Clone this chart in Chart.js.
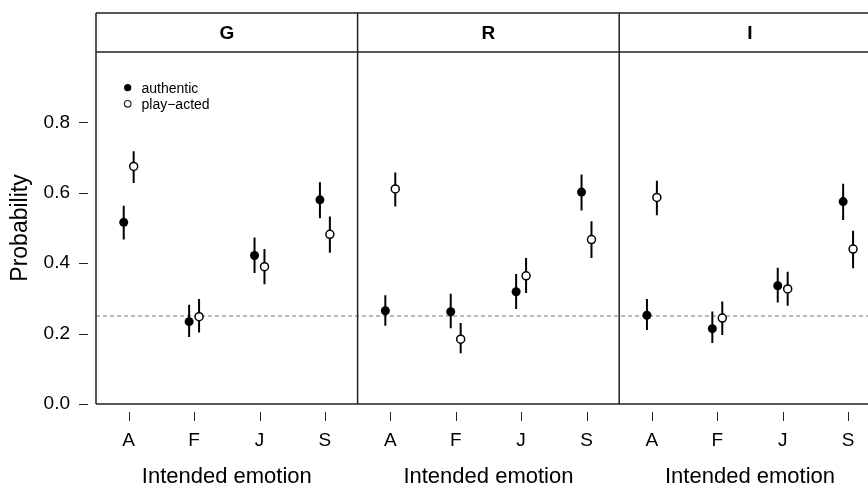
<!DOCTYPE html>
<html>
<head>
<meta charset="utf-8">
<script src="https://cdn.jsdelivr.net/npm/chart.js@4/dist/chart.umd.min.js"></script>
<style>
  html, body { margin: 0; padding: 0; background: #fff; overflow: hidden; }
  #wrap { width: 868px; height: 486px; position: relative; }
  canvas { display: block; }
</style>
</head>
<body>
<div id="wrap"><canvas id="chart"></canvas></div>
<script>
const panels = ['G', 'R', 'I'];
const emotions = ['A', 'F', 'J', 'S'];
const yTicks = [0, 0.2, 0.4, 0.6, 0.8];
const chance = 0.25;

// authentic: mean and interval per intended emotion
const authenticG = [0.516, 0.234, 0.422, 0.580];
const authenticGLow = [0.467, 0.190, 0.372, 0.528];
const authenticGHigh = [0.563, 0.282, 0.473, 0.630];
const authenticR = [0.265, 0.262, 0.319, 0.602];
const authenticRLow = [0.222, 0.215, 0.270, 0.550];
const authenticRHigh = [0.309, 0.313, 0.369, 0.652];
const authenticI = [0.252, 0.214, 0.336, 0.575];
const authenticILow = [0.210, 0.173, 0.288, 0.523];
const authenticIHigh = [0.298, 0.263, 0.387, 0.626];

// play-acted
const playG = [0.675, 0.248, 0.390, 0.482];
const playGLow = [0.628, 0.203, 0.340, 0.430];
const playGHigh = [0.718, 0.298, 0.440, 0.533];
const playR = [0.611, 0.184, 0.364, 0.467];
const playRLow = [0.561, 0.144, 0.315, 0.415];
const playRHigh = [0.658, 0.230, 0.415, 0.519];
const playI = [0.587, 0.244, 0.327, 0.440];
const playILow = [0.536, 0.196, 0.279, 0.386];
const playIHigh = [0.634, 0.291, 0.376, 0.492];

const FONT = "'Liberation Sans', Arial, Helvetica, sans-serif";
const LINE = '#222';
const DODGE = 0.076;

const authentic = [[authenticG, authenticGLow, authenticGHigh], [authenticR, authenticRLow, authenticRHigh], [authenticI, authenticILow, authenticIHigh]];
const played = [[playG, playGLow, playGHigh], [playR, playRLow, playRHigh], [playI, playILow, playIHigh]];

function points(groups, shift) {
  const out = [];
  groups.forEach(([mean], p) => {
    mean.forEach((v, c) => out.push({ x: p * 4 + c + 1 + shift, y: v }));
  });
  return out;
}

function bars(groups, shift) {
  const out = [];
  groups.forEach(([, low, high], p) => {
    low.forEach((lo, c) => {
      const x = p * 4 + c + 1 + shift;
      out.push({ x, y: lo }, { x, y: high[c] }, { x, y: null });
    });
  });
  return out;
}

const framePlugin = {
  id: 'frame',
  beforeDatasetsDraw(chart) {
    const { ctx, chartArea, scales: { y } } = chart;
    const yc = y.getPixelForValue(chance);
    ctx.save();
    ctx.strokeStyle = '#777';
    ctx.lineWidth = 1;
    ctx.setLineDash([4, 3]);
    ctx.beginPath();
    ctx.moveTo(chartArea.left, yc);
    ctx.lineTo(chart.width, yc);
    ctx.stroke();
    ctx.restore();
  },
  afterDraw(chart) {
    const { ctx, chartArea, scales: { x, y } } = chart;
    const stripTop = 13;
    const right = chart.width;
    ctx.save();
    ctx.strokeStyle = LINE;
    ctx.lineWidth = 1.5;

    // strips and panel borders
    ctx.beginPath();
    ctx.moveTo(chartArea.left, stripTop);
    ctx.lineTo(right, stripTop);
    ctx.moveTo(chartArea.left, chartArea.top);
    ctx.lineTo(right, chartArea.top);
    ctx.moveTo(chartArea.left, chartArea.bottom);
    ctx.lineTo(right, chartArea.bottom);
    for (let p = 0; p <= panels.length; p++) {
      const px = x.getPixelForValue(p * 4 + 0.5);
      if (px > right) continue;
      ctx.moveTo(px, stripTop);
      ctx.lineTo(px, chartArea.bottom);
    }
    ctx.stroke();

    // tick marks, detached from the panel like base R
    ctx.lineWidth = 1;
    ctx.beginPath();
    x.ticks.forEach((t) => {
      const px = Math.round(x.getPixelForValue(t.value)) + 0.5;
      ctx.moveTo(px, chartArea.bottom + 8);
      ctx.lineTo(px, chartArea.bottom + 17);
    });
    y.ticks.forEach((t) => {
      const py = Math.round(y.getPixelForValue(t.value)) + 0.5;
      ctx.moveTo(chartArea.left - 17, py);
      ctx.lineTo(chartArea.left - 8, py);
    });
    ctx.stroke();

    ctx.fillStyle = '#000';
    ctx.textAlign = 'center';
    ctx.textBaseline = 'alphabetic';
    panels.forEach((name, p) => {
      const cx = (x.getPixelForValue(p * 4 + 0.5) + x.getPixelForValue(p * 4 + 4.5)) / 2;
      ctx.font = `bold 19px ${FONT}`;
      ctx.fillText(name, cx, 38.5);
      ctx.font = `22px ${FONT}`;
      ctx.fillText('Intended emotion', cx, 483);
    });

    // legend
    const lx = 127.7;
    ctx.fillStyle = '#000';
    ctx.beginPath();
    ctx.arc(lx, 87.7, 3.6, 0, Math.PI * 2);
    ctx.fill();
    ctx.fillStyle = '#fff';
    ctx.lineWidth = 1.2;
    ctx.beginPath();
    ctx.arc(lx, 103.8, 3.3, 0, Math.PI * 2);
    ctx.fill();
    ctx.stroke();
    ctx.fillStyle = '#000';
    ctx.textAlign = 'left';
    ctx.font = `14px ${FONT}`;
    ctx.fillText('authentic', 141.5, 93);
    ctx.fillText('play\u2212acted', 141.5, 108.5);
    ctx.restore();
  },
};

new Chart(document.getElementById('chart'), {
  type: 'scatter',
  data: {
    datasets: [
      {
        label: 'authentic',
        data: points(authentic, -DODGE),
        pointRadius: 4.5,
        pointHoverRadius: 4.5,
        pointBackgroundColor: '#000',
        pointBorderColor: '#000',
        pointBorderWidth: 0,
        order: 1,
      },
      {
        label: 'play-acted',
        data: points(played, DODGE),
        pointRadius: 4,
        pointHoverRadius: 4,
        pointBackgroundColor: '#fff',
        pointBorderColor: '#000',
        pointBorderWidth: 1.5,
        order: 2,
      },
      {
        label: 'authentic interval',
        data: bars(authentic, -DODGE),
        showLine: true,
        spanGaps: false,
        pointRadius: 0,
        borderColor: '#000',
        borderWidth: 2,
        order: 3,
      },
      {
        label: 'play-acted interval',
        data: bars(played, DODGE),
        showLine: true,
        spanGaps: false,
        pointRadius: 0,
        borderColor: '#000',
        borderWidth: 2,
        order: 4,
      },
    ],
  },
  options: {
    responsive: true,
    maintainAspectRatio: false,
    animation: false,
    events: [],
    layout: { padding: { top: 52, left: 0, right: 0, bottom: 0 } },
    plugins: {
      legend: { display: false },
      tooltip: { enabled: false },
    },
    scales: {
      x: {
        type: 'linear',
        min: 0.5,
        max: 12.22,
        grid: { display: false, drawTicks: false },
        border: { display: false },
        afterBuildTicks: (scale) => {
          scale.ticks = [];
          panels.forEach((_, p) => emotions.forEach((_, c) => scale.ticks.push({ value: p * 4 + c + 1 })));
        },
        afterFit: (scale) => {
          scale.height = 82;
          scale.paddingLeft = 0;
          scale.paddingRight = 0;
        },
        ticks: {
          autoSkip: false,
          maxRotation: 0,
          padding: 25,
          color: '#000',
          font: { family: FONT, size: 19 },
          callback: (v) => emotions[(Math.round(v) - 1) % 4],
        },
      },
      y: {
        min: 0,
        max: 1,
        grid: { display: false, drawTicks: false },
        border: { display: false },
        afterBuildTicks: (scale) => {
          scale.ticks = yTicks.map((value) => ({ value }));
        },
        afterFit: (scale) => {
          scale.width = 96;
          scale.paddingTop = 0;
          scale.paddingBottom = 0;
        },
        ticks: {
          padding: 26,
          color: '#000',
          font: { family: FONT, size: 19 },
          callback: (v) => v.toFixed(1),
        },
        title: {
          display: true,
          text: 'Probability',
          color: '#000',
          font: { family: FONT, size: 23 },
          padding: { top: 7, bottom: 0 },
        },
      },
    },
  },
  plugins: [framePlugin],
});
</script>
</body>
</html>
